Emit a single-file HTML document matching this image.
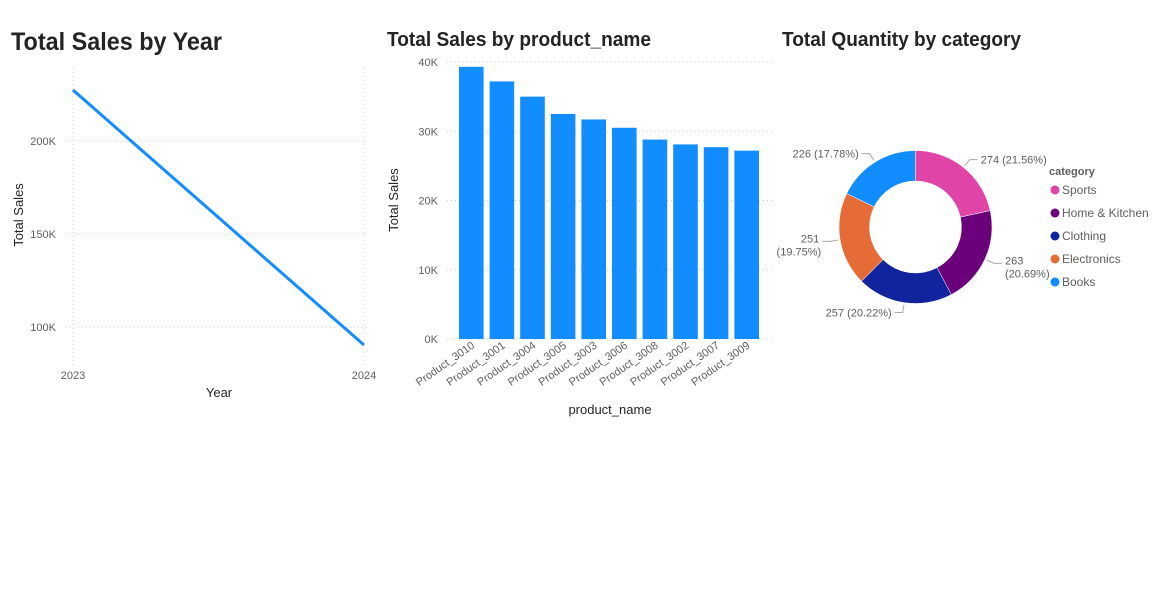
<!DOCTYPE html>
<html><head><meta charset="utf-8"><style>
html,body{margin:0;padding:0;background:#fff;}
svg{display:block;font-family:"Liberation Sans","DejaVu Sans",sans-serif;}
</style></head><body>
<svg id="s" width="1162" height="602" viewBox="0 0 1162 602">
<text x="11" y="50" font-size="25" font-weight="bold" fill="#252423" textLength="211" lengthAdjust="spacingAndGlyphs">Total Sales by Year</text>
<text x="387" y="46" font-size="20" font-weight="bold" fill="#252423" textLength="264" lengthAdjust="spacingAndGlyphs">Total Sales by product_name</text>
<text x="782" y="46" font-size="20" font-weight="bold" fill="#252423" textLength="239" lengthAdjust="spacingAndGlyphs">Total Quantity by category</text>
<g id="line"></g>
<g id="bar"></g>
<g id="donut"></g>
</svg>
<script>
const years=['2023','2024'];
const yearSales=[227400,90300];
const lineTicks=[100000,150000,200000];
const lineTickLabels=['100K','150K','200K'];
const products=['Product_3010','Product_3001','Product_3004','Product_3005','Product_3003','Product_3006','Product_3008','Product_3002','Product_3007','Product_3009'];
const productSales=[39300,37200,35000,32500,31700,30500,28800,28100,27700,27200];
const barTicks=[0,10000,20000,30000,40000];
const barTickLabels=['0K','10K','20K','30K','40K'];
const categories=['Sports','Home & Kitchen','Clothing','Electronics','Books'];
const quantities=[274,263,257,251,226];
const catColors=['#E044A7','#6B007B','#12239E','#E66C37','#118DFF'];

const NS='http://www.w3.org/2000/svg';
function mk(tag,attrs,parent,txt){const e=document.createElementNS(NS,tag);for(const k in attrs)e.setAttribute(k,attrs[k]);if(txt!==undefined)e.textContent=txt;parent.appendChild(e);return e;}

// line chart
const L=document.getElementById('line');
const lx=i=>73+i*(364-73)/(years.length-1);
const ly=v=>327-(v-100000)*(93/50000);
for(let i=0;i<years.length;i++){
  const g=mk('line',{x1:lx(i),x2:lx(i),y1:68,y2:366,stroke:'#ccc','stroke-dasharray':'1 3'},L);
  
  
  const t=mk('text',{x:lx(i),y:379,'font-size':11,fill:'#605E5C','text-anchor':'middle'},L,years[i]);
  
  
}
lineTicks.forEach((v,i)=>{
  const g=mk('line',{x1:66,x2:370,y1:ly(v),y2:ly(v),stroke:'#ccc','stroke-dasharray':'1 3'},L);
  
  
  const t=mk('text',{x:56,y:ly(v)+4,'font-size':11,fill:'#605E5C','text-anchor':'end'},L,lineTickLabels[i]);
  
  
});
const pl=mk('polyline',{points:yearSales.map((v,i)=>lx(i)+','+ly(v)).join(' '),fill:'none',stroke:'#118DFF','stroke-width':3},L);


let t1=mk('text',{x:219,y:397,'font-size':13,fill:'#252423','text-anchor':'middle'},L,'Year');


t1=mk('text',{x:23,y:215,'font-size':13,fill:'#252423','text-anchor':'middle',transform:'rotate(-90 23 215)'},L,'Total Sales');



// bar chart
const B=document.getElementById('bar');
const by=v=>339-v*(277/40000);
const band=30.6, bx0=456;
barTicks.forEach((v,i)=>{
  const g=mk('line',{x1:447,x2:772,y1:by(v),y2:by(v),stroke:'#ccc','stroke-dasharray':'1 3'},B);
  
  
  const t=mk('text',{x:438,y:by(v)+4,'font-size':11,fill:'#605E5C','text-anchor':'end'},B,barTickLabels[i]);
  
  
});
products.forEach((p,i)=>{
  const x=bx0+i*band+3;
  const r=mk('rect',{x:x,y:by(productSales[i]),width:band-6,height:by(0)-by(productSales[i]),fill:'#118DFF'},B);
  
  
  const cx=x+(band-6)/2+4, cy=347;
  const t=mk('text',{x:cx,y:cy,'font-size':11,fill:'#605E5C','text-anchor':'end',transform:`rotate(-35 ${cx} ${cy})`},B,p);
  
  
});
t1=mk('text',{x:610,y:414,'font-size':13,fill:'#252423','text-anchor':'middle'},B,'product_name');


t1=mk('text',{x:398,y:200,'font-size':13,fill:'#252423','text-anchor':'middle',transform:'rotate(-90 398 200)'},B,'Total Sales');



// donut
const D=document.getElementById('donut');
const cx=915.5, cy=227, R=76.5, r=46;
const total=quantities.reduce((a,b)=>a+b,0);
let a0=0;
const pt=(a,rr)=>[cx+rr*Math.sin(a),cy-rr*Math.cos(a)];
quantities.forEach((q,i)=>{
  const a1=a0+q/total*2*Math.PI;
  const [x1,y1]=pt(a0,R),[x2,y2]=pt(a1,R),[x3,y3]=pt(a1,r),[x4,y4]=pt(a0,r);
  const lg=(a1-a0)>Math.PI?1:0;
  const p=mk('path',{d:`M${x1},${y1}A${R},${R} 0 ${lg} 1 ${x2},${y2}L${x3},${y3}A${r},${r} 0 ${lg} 0 ${x4},${y4}Z`,fill:catColors[i],stroke:'#fff','stroke-width':0.5},D);
  
  
  // label with leader
  const am=(a0+a1)/2;
  const [lx1,ly1]=pt(am,R+2),[lx2,ly2]=pt(am,R+10);
  const right=Math.sin(am)>0;
  const lx3=lx2+(right?8:-8);
  const ld=mk('polyline',{points:`${lx1},${ly1} ${lx2},${ly2} ${lx3},${ly2}`,fill:'none',stroke:'#aaa','stroke-width':1},D);
  
  
  const pct=(q/total*100).toFixed(2)+'%';
  const anc=right?'start':'end', tx=lx3+(right?3:-3);
  const twoLine=Math.abs(Math.cos(am))<0.55;
  if(twoLine){
    const t=mk('text',{x:tx,y:ly2+1,'font-size':11,fill:'#605E5C','text-anchor':right?'start':'end'},D);
    
    
    mk('tspan',{x:tx},t,String(q));
    mk('tspan',{x:right?tx:tx+2,dy:13},t,'('+pct+')');
  } else {
    const t=mk('text',{x:tx,y:ly2+4,'font-size':11,fill:'#605E5C','text-anchor':anc},D,q+' ('+pct+')');
    
    
  }
  a0=a1;
});
t1=mk('text',{x:1049,y:175,'font-size':11,'font-weight':'bold',fill:'#605E5C'},D,'category');


categories.forEach((c,i)=>{
  const y=190+i*23;
  const g=mk('g',{},D);
  
  
  mk('circle',{cx:1055,cy:y,r:4.5,fill:catColors[i]},g);
  mk('text',{x:1062,y:y+4,'font-size':12,fill:'#605E5C'},g,c);
});
</script>
</body></html>
